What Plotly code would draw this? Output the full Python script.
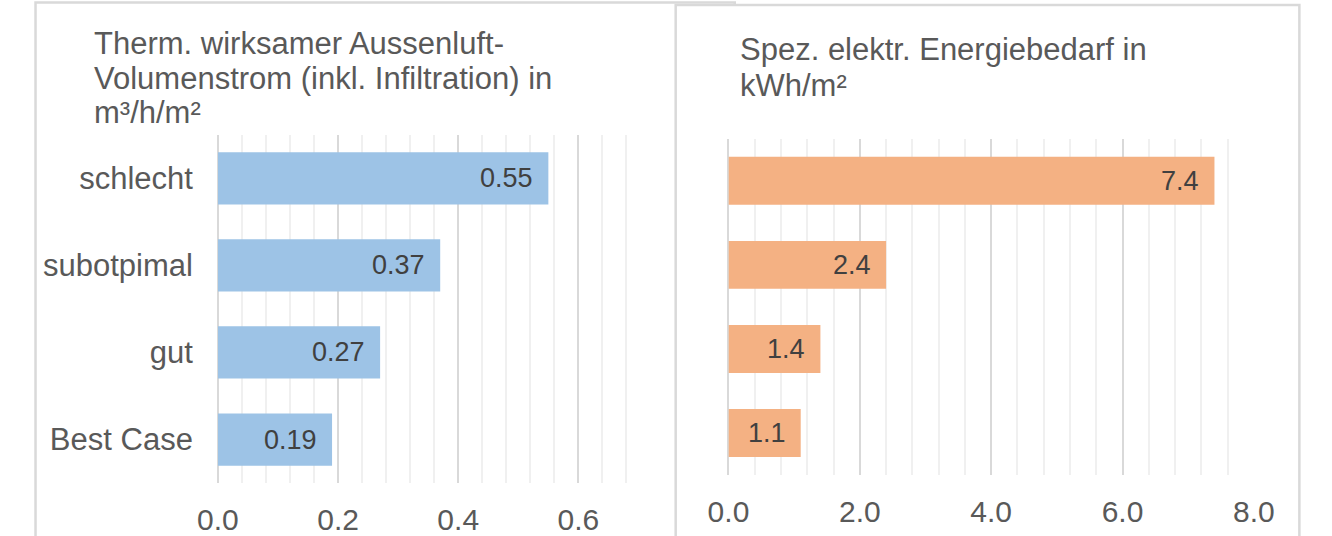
import plotly.graph_objects as go

categories = ["schlecht", "subotpimal", "gut", "Best Case"]
luft_values = [0.55, 0.37, 0.27, 0.19]
energie_values = [7.4, 2.4, 1.4, 1.1]
left_title_lines = ["Therm. wirksamer Aussenluft-",
                    "Volumenstrom (inkl. Infiltration) in",
                    "m³/h/m²"]
right_title_lines = ["Spez. elektr. Energiebedarf in", "kWh/m²"]

W, H = 1332, 536
FONT = "Liberation Sans, Arial, sans-serif"
GRAY = "#595959"
LABEL = "#404040"
MAJOR = "#D9D9D9"
MINOR = "#F0F0F0"


def px(x):
    return x / W


def py(y):
    return 1 - y / H


fig = go.Figure()
fig.add_trace(go.Bar(x=luft_values, y=categories, orientation="h",
                     marker=dict(color="#9DC3E6", line=dict(width=0)),
                     width=0.6, xaxis="x", yaxis="y", hoverinfo="skip"))
fig.add_trace(go.Bar(x=energie_values, y=categories, orientation="h",
                     marker=dict(color="#F4B183", line=dict(width=0)),
                     width=0.57, xaxis="x2", yaxis="y2", hoverinfo="skip"))

annotations = []
for v, c in zip(luft_values, categories):
    annotations.append(dict(x=v, y=c, xref="x", yref="y", text=f"{v:.2f}",
                            showarrow=False, xanchor="right", xshift=-13,
                            font=dict(family=FONT, size=27, color=LABEL)))
for v, c in zip(energie_values, categories):
    annotations.append(dict(x=v, y=c, xref="x2", yref="y2", text=f"{v:.1f}",
                            showarrow=False, xanchor="right", xshift=-13,
                            font=dict(family=FONT, size=27, color=LABEL)))

for t, yy in zip(left_title_lines, [44, 79, 113]):
    annotations.append(dict(x=px(73), y=py(yy), xref="paper", yref="paper", text=t,
                            showarrow=False, xanchor="left", yanchor="middle",
                            font=dict(family=FONT, size=31, color=GRAY)))
for t, yy in zip(right_title_lines, [50, 86]):
    annotations.append(dict(x=px(740), y=py(yy), xref="paper", yref="paper", text=t,
                            showarrow=False, xanchor="left", yanchor="middle",
                            font=dict(family=FONT, size=31, color=GRAY)))

shapes = [
    dict(type="rect", xref="paper", yref="paper", x0=px(15), x1=px(737), y0=py(560), y1=py(2.5),
         line=dict(color="#D9D9D9", width=2.5), fillcolor="white", layer="below"),
    dict(type="rect", xref="paper", yref="paper", x0=px(676), x1=px(1320), y0=py(560), y1=py(5),
         line=dict(color="#D9D9D9", width=2.5), fillcolor="white", layer="below"),
]

axis_common = dict(showline=False, ticks="", zeroline=True, zerolinecolor=MAJOR, zerolinewidth=2,
                   showgrid=True, gridcolor=MAJOR, gridwidth=2,
                   tickfont=dict(family=FONT, size=30, color=GRAY), tickformat=".1f",
                   fixedrange=True)

fig.update_layout(
    width=W, height=H,
    margin=dict(l=0, r=0, t=0, b=0),
    paper_bgcolor="white", plot_bgcolor="rgba(0,0,0,0)",
    showlegend=False,
    font=dict(family=FONT, color=GRAY),
    xaxis=dict(domain=[px(203.3), px(650)], range=[0, 0.72], dtick=0.2, tick0=0,
               minor=dict(dtick=0.04, showgrid=True, gridcolor=MINOR, gridwidth=2),
               anchor="y", ticklabelstandoff=16, **axis_common),
    yaxis=dict(domain=[py(484), py(135)], autorange="reversed", anchor="x",
               showgrid=False, showline=False, ticks="", zeroline=False,
               tickfont=dict(family=FONT, size=31, color=GRAY), ticklabelstandoff=24,
               fixedrange=True),
    xaxis2=dict(domain=[px(730.5), px(1273)], range=[0, 8], dtick=2, tick0=0,
                minor=dict(dtick=0.4, showgrid=True, gridcolor=MINOR, gridwidth=2),
                anchor="y2", ticklabelstandoff=16, **axis_common),
    yaxis2=dict(domain=[py(476), py(139)], autorange="reversed", anchor="x2",
                showgrid=False, showline=False, ticks="", zeroline=False,
                showticklabels=False, fixedrange=True),
    annotations=annotations,
    shapes=shapes,
    bargap=0.4,
)

fig.write_html("out.html", config={"displayModeBar": False},
               post_script="document.body.style.margin='0';document.body.style.overflow='hidden';")
